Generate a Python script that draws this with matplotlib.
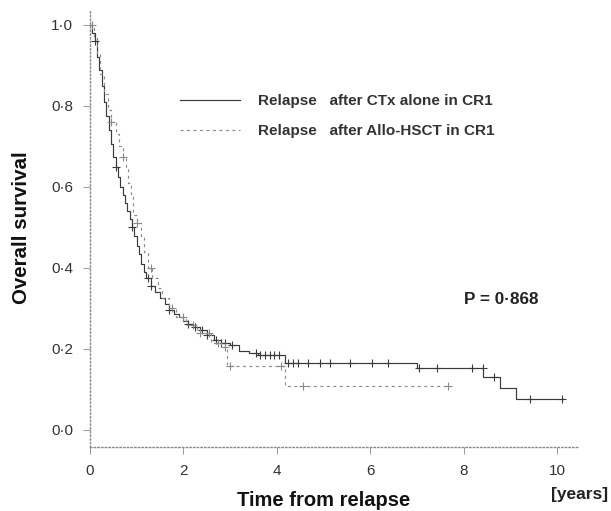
import matplotlib
matplotlib.use("Agg")
import matplotlib.pyplot as plt
import numpy as np

# --- Data (Kaplan-Meier step curves) ---
ctx_times = [0, 0.05, 0.10, 0.15, 0.20, 0.25, 0.30, 0.35, 0.40, 0.45, 0.50, 0.55,
             0.60, 0.65, 0.70, 0.75, 0.80, 0.85, 0.90, 0.95, 1.00, 1.05, 1.10, 1.15,
             1.20, 1.30, 1.40, 1.50, 1.60, 1.70, 1.80, 1.90, 2.00, 2.10, 2.20, 2.35,
             2.50, 2.65, 2.80, 3.00, 3.20, 3.40, 3.60, 4.18, 7.00, 8.42, 8.78, 9.12, 10.13]
ctx_surv = [1.0, 0.98, 0.96, 0.92, 0.89, 0.85, 0.81, 0.775, 0.74, 0.705, 0.675, 0.65,
            0.625, 0.60, 0.58, 0.56, 0.54, 0.52, 0.50, 0.48, 0.455, 0.435, 0.41, 0.39,
            0.375, 0.355, 0.34, 0.325, 0.31, 0.297, 0.287, 0.278, 0.27, 0.262, 0.255, 0.247,
            0.235, 0.222, 0.215, 0.21, 0.195, 0.19, 0.185, 0.165, 0.152, 0.130, 0.104, 0.077, 0.077]
ctx_censor = [0.10, 0.55, 0.90, 1.25, 1.30, 1.70, 2.10, 2.25, 2.40, 2.50, 2.70, 2.80, 2.90,
              3.05, 3.55, 3.65, 3.75, 3.85, 3.95, 4.05, 4.25, 4.35, 4.45, 4.67, 4.93, 5.14,
              5.57, 6.04, 6.38, 7.04, 7.43, 8.18, 8.41, 8.65, 9.42, 10.10]

allo_times = [0, 0.08, 0.15, 0.22, 0.30, 0.38, 0.45, 0.55, 0.62, 0.70, 0.78, 0.82, 0.88,
              0.93, 1.00, 1.10, 1.15, 1.25, 1.32, 1.45, 1.55, 1.70, 1.85, 2.05, 2.30, 2.60,
              2.80, 2.93, 4.18, 7.67]
allo_surv = [1.0, 0.97, 0.93, 0.88, 0.83, 0.79, 0.76, 0.73, 0.70, 0.675, 0.65, 0.61, 0.58,
             0.53, 0.51, 0.48, 0.44, 0.40, 0.375, 0.35, 0.325, 0.30, 0.28, 0.26, 0.24, 0.215,
             0.205, 0.158, 0.109, 0.109]
allo_censor = [0.05, 0.45, 0.70, 1.00, 1.30, 1.75, 2.00, 2.20, 2.35, 2.55, 2.75, 2.90,
               3.00, 4.10, 4.56, 7.67]

labels = ["Relapse   after CTx alone in CR1", "Relapse   after Allo-HSCT in CR1"]
yticks = [0.0, 0.2, 0.4, 0.6, 0.8, 1.0]
ytick_labels = ["0·0", "0·2", "0·4", "0·6", "0·8", "1·0"]
xticks = [0, 2, 4, 6, 8, 10]
p_text = "P = 0·868"

plt.rcParams['font.family'] = ['Liberation Sans', 'DejaVu Sans']

fig = plt.figure(figsize=(6.11, 5.11), dpi=100)
ax = fig.add_axes([90/611, 1-447/511, (578-90)/611, (447-10)/511])


def surv_at(times, surv, t):
    idx = np.searchsorted(times, t, side='right') - 1
    return surv[max(idx, 0)]

# CTx curve
l1, = ax.step(ctx_times, ctx_surv, where='post', color='#3a3a3a', lw=0.85)
ax.plot(ctx_censor, [surv_at(ctx_times, ctx_surv, t) for t in ctx_censor],
        ls='none', marker='+', ms=6, mew=0.8, color='#3a3a3a')
# Allo curve
l2, = ax.step(allo_times, allo_surv, where='post', color='#8a8a8a', lw=0.85,
              ls=(0, (2.5, 3)))
ax.plot(allo_censor, [surv_at(allo_times, allo_surv, t) for t in allo_censor],
        ls='none', marker='+', ms=6, mew=0.8, color='#8a8a8a')

ax.set_xlim(0, 10.45)
ax.set_ylim(-0.042, 1.037)
ax.set_xticks(xticks)
ax.set_xticklabels([str(v) for v in xticks])
ax.set_yticks(yticks)
ax.set_yticklabels(ytick_labels)

for s in ['top', 'right']:
    ax.spines[s].set_visible(False)
for s in ['left', 'bottom']:
    ax.spines[s].set_linestyle(':')
    ax.spines[s].set_color('#8a8a8a')
    ax.spines[s].set_linewidth(1.0)
ax.tick_params(axis='both', length=5, width=0.7, color='#9a9a9a',
               labelsize=11, labelcolor='#333333', pad=7)

fig.text(22/611, 1-228/511, "Overall survival", fontsize=14.8, fontweight='bold',
         ha='center', va='center', rotation=90, color='#111111')
fig.text(324/611, 1-500/511, "Time from relapse", fontsize=14.5, fontweight='bold',
         ha='center', va='center', color='#111111')
fig.text(580/611, 1-494/511, "[years]", fontsize=12.5, fontweight='bold',
         ha='center', va='center', color='#222222')
fig.text(501/611, 1-300/511, p_text, fontsize=12.3, fontweight='bold',
         ha='center', va='center', color='#222222')

leg = fig.legend([l1, l2], labels, loc='upper left',
                 bbox_to_anchor=(180/611, 1-94/511), frameon=False,
                 fontsize=11, handlelength=3.9, handletextpad=1.2,
                 labelspacing=1.05, borderpad=0, borderaxespad=0)
for t in leg.get_texts():
    t.set_fontweight('bold')
    t.set_color('#333333')

fig.savefig("out.png", dpi=100)
